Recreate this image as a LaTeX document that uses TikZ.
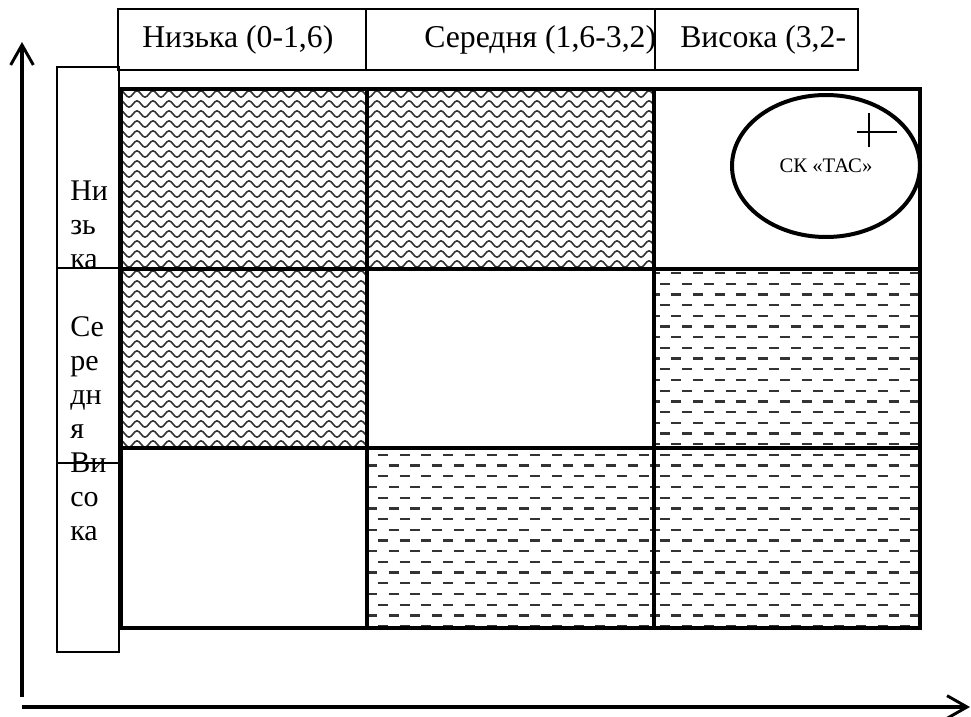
\documentclass[tikz,border=0pt]{standalone}
\usepackage{fontspec}
\setmainfont{Liberation Serif}
\usetikzlibrary{arrows.meta,shapes.geometric}
\begin{document}
\begin{tikzpicture}[x=0.75pt,y=-0.75pt,
  thinbox/.style={draw, line width=1.5pt},
  gridline/.style={draw, line width=3.4pt},
  wave/.style={line width=1.2pt, black!80},
  dashrow/.style={line width=1.7pt, black!80, dash pattern=on 7.5pt off 8.8pt},
  hdr/.style={font=\fontsize{23.8}{27}\selectfont, anchor=base west, inner sep=0pt},
  side/.style={font=\fontsize{22.5}{25.5}\selectfont, anchor=base west, inner sep=0pt},
  axisline/.style={line width=2.6pt, -{Straight Barb[length=15pt,width=17pt,line width=2.2pt]}}
]
\useasboundingbox (0,0) rectangle (971,717);

% header
\draw[thinbox] (118,9) rectangle (858,70);
\draw[line width=1.5pt] (366,9) -- (366,70) (655,9) -- (655,70);
\node[hdr] (h1) at (142,48) {Низька (0-1,6)};
\node[hdr] (h2) at (424,48) {Середня (1,6-3,2)};
\node[hdr] (h3) at (680,48) {Висока (3,2-};

% left column
\draw[thinbox] (57,67) rectangle (119,652);
\draw[line width=1.5pt] (57,268) -- (119,268) (57,463) -- (119,463);
\foreach \t/\y [count=\n] in {Ни/200,зь/234,ка/268,Се/336,ре/370,дн/404,я/438,Ви/472,со/506,ка/540}
  \node[side] (s\n) at (70,\y) {\t};

% wave pattern
\begin{scope}
  \clip (121,89) rectangle (654,269) (121,269) rectangle (367,448);
  \foreach \yy in {94,104,...,454}
    \draw[wave] (117,\yy) foreach \k in {1,...,35} {sin ++(4,-3.2) cos ++(4,3.2) sin ++(4,3.2) cos ++(4,-3.2)};
\end{scope}

% dash pattern
\begin{scope}
  \clip (654,269) rectangle (920,628) (367,448) rectangle (654,628);
  \foreach \i in {0,...,34} {
    \pgfmathsetmacro\yy{273+10.7*\i}
    \pgfmathsetmacro\ph{mod(\i,2)*8.1}
    \draw[dashrow, dash phase=\ph pt] (367,\yy) -- (925,\yy);
  }
\end{scope}

% grid
\draw[gridline] (121,89) rectangle (920,628);
\draw[gridline] (367,89) -- (367,628) (654,89) -- (654,628);
\draw[gridline] (121,269) -- (920,269) (121,448) -- (920,448);

% ellipse
\node[draw, ellipse, line width=3pt, inner sep=0pt, minimum width=141pt, minimum height=106.5pt,
  font=\fontsize{15.5}{18}\selectfont] (tas) at (826,166) {СК «ТАС»};
\coordinate (cxl) at (857,132); \coordinate (cxr) at (897,132);
\coordinate (cyt) at (869,113); \coordinate (cyb) at (869,147);
\draw[line width=1.2pt] (cxl) -- (cxr) (cyt) -- (cyb);

% axes
\coordinate (vb) at (22,697); \coordinate (vt) at (22,42);
\coordinate (hl) at (22,707); \coordinate (hr) at (970,707);
\draw[axisline] (vb) -- (vt);
\draw[axisline] (hl) -- (hr);
\end{tikzpicture}
\end{document}
